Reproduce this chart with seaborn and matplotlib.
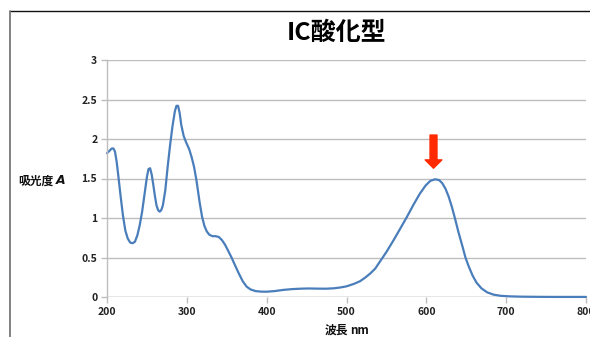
import matplotlib
matplotlib.use("Agg")
import matplotlib.pyplot as plt
from matplotlib.lines import Line2D
from matplotlib.patches import ArrowStyle
import pandas as pd
import seaborn as sns

# Absorption spectrum of the oxidized form
wavelength = [200, 203, 206, 208, 210, 212, 214, 217, 220, 223, 226, 229, 232, 235,
              238, 241, 244, 247, 250, 252, 254, 256, 258, 260, 262, 264, 266, 268,
              270, 273, 276, 279, 282, 285, 287, 289, 291, 293, 296, 299, 303, 306,
              309, 312, 316, 319, 322, 325, 328, 332, 336, 340, 344, 348, 352, 356,
              360, 365, 370, 375, 380, 386, 393, 400, 410, 421, 432, 442, 452, 463,
              474, 484, 492, 500, 509, 517, 524, 530, 536, 542, 550, 559, 567, 576,
              584, 592, 599, 605, 611, 616, 620, 624, 628, 632, 636, 640, 645, 649,
              653, 658, 663, 669, 676, 684, 693, 705, 720, 740, 760, 780, 800]
absorbance = [1.82, 1.85, 1.88, 1.88, 1.84, 1.72, 1.55, 1.28, 1.03, 0.84, 0.74, 0.69,
              0.68, 0.70, 0.78, 0.91, 1.08, 1.30, 1.52, 1.62, 1.63, 1.55, 1.42, 1.28,
              1.16, 1.10, 1.08, 1.10, 1.16, 1.35, 1.65, 1.92, 2.16, 2.35, 2.42, 2.42,
              2.33, 2.18, 2.04, 1.96, 1.87, 1.77, 1.65, 1.48, 1.20, 1.02, 0.90, 0.83,
              0.79, 0.77, 0.77, 0.76, 0.72, 0.66, 0.58, 0.50, 0.41, 0.30, 0.20, 0.13,
              0.095, 0.075, 0.068, 0.067, 0.075, 0.09, 0.10, 0.105, 0.108, 0.106,
              0.105, 0.11, 0.12, 0.135, 0.165, 0.20, 0.25, 0.30, 0.36, 0.45, 0.57,
              0.72, 0.86, 1.02, 1.17, 1.31, 1.41, 1.47, 1.49, 1.48, 1.44, 1.37, 1.27,
              1.14, 0.99, 0.83, 0.65, 0.50, 0.39, 0.27, 0.18, 0.11, 0.06, 0.03, 0.015,
              0.008, 0.004, 0.002, 0.001, 0.001, 0.001]

x_ticks = [200, 300, 400, 500, 600, 700, 800]
y_ticks = [0, 0.5, 1, 1.5, 2, 2.5, 3]
y_tick_labels = ["0", "0.5", "1", "1.5", "2", "2.5", "3"]
peak_wavelength = 609

title_text = "IC酸化型"
x_label = "波長"
x_unit = "nm"
y_label = "吸光度"
y_symbol = "A"

df = pd.DataFrame({"wavelength": wavelength, "absorbance": absorbance})

sns.set_theme(style="white")
plt.rcParams["font.family"] = ["Noto Sans CJK JP", "DejaVu Sans"]

fig = plt.figure(figsize=(5.9, 3.37), dpi=100)
ax = fig.add_axes([107 / 590, 1 - 297 / 337, (586 - 107) / 590, (297 - 60) / 337])

sns.lineplot(data=df, x="wavelength", y="absorbance", ax=ax, color="#4A7EBB",
             linewidth=1.6, sort=False, clip_on=False)

ax.set_xlim(200, 800)
ax.set_ylim(0, 3)
ax.set_xticks(x_ticks)
ax.set_yticks(y_ticks)
ax.set_yticklabels(y_tick_labels)
ax.set_xlabel("")
ax.set_ylabel("")
ax.grid(axis="y", color="#BDBDBD", linewidth=1.0)
ax.grid(axis="x", visible=False)
ax.set_axisbelow(True)
for side in ["top", "right", "bottom"]:
    ax.spines[side].set_visible(False)
ax.spines["left"].set_color("#BDBDBD")
ax.spines["left"].set_linewidth(1.0)
ax.axhline(0, color="#BDBDBD", linewidth=1.0, zorder=0.5)
ax.tick_params(axis="both", which="major", length=4, width=1.0, color="#BDBDBD",
               labelsize=7.5, pad=3, bottom=True, left=True)
for lbl in ax.get_xticklabels() + ax.get_yticklabels():
    lbl.set_fontweight("bold")
    lbl.set_color("#222222")

# red arrow marking the visible-band maximum
ax.annotate("", xy=(peak_wavelength, 1.63), xytext=(peak_wavelength, 2.05),
            arrowprops=dict(arrowstyle=ArrowStyle.Simple(head_length=0.6, head_width=1.2,
                                                         tail_width=0.5),
                            mutation_scale=10, color="#FF2A00", shrinkA=0, shrinkB=0))

fig.text(337 / 590, 1 - 33 / 337, title_text, ha="center", va="center",
         fontsize=18, fontweight="bold", color="black")
fig.text(18 / 590, 1 - 181 / 337, y_label, ha="left", va="center",
         fontsize=8.5, fontweight="bold", color="#111111")
fig.text(56 / 590, 1 - 181 / 337, y_symbol, ha="left", va="center",
         fontsize=9, fontweight="bold", style="italic", color="#111111",
         family="DejaVu Sans")
fig.text(325 / 590, 1 - 330 / 337, x_label, ha="left", va="center",
         fontsize=8.5, fontweight="bold", color="#111111")
fig.text(350 / 590, 1 - 330 / 337, x_unit, ha="left", va="center",
         fontsize=8.5, fontweight="bold", color="#111111")

# outer chart frame
fig.add_artist(Line2D([10 / 590, 1.0], [1 - 11 / 337] * 2, transform=fig.transFigure,
                      color="#111111", linewidth=1.0))
fig.add_artist(Line2D([10 / 590] * 2, [0, 1 - 11 / 337], transform=fig.transFigure,
                      color="#777777", linewidth=1.3))

fig.savefig("out.png", dpi=100)
